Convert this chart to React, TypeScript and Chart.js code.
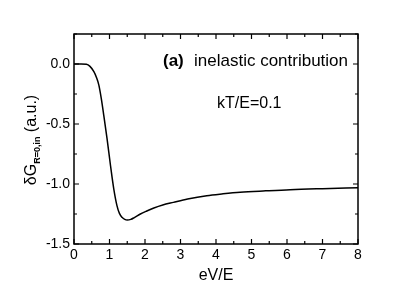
import React, { useEffect, useRef } from "react";
import { Chart, registerables } from "chart.js";

Chart.register(...registerables);

const xValues = [0, 0.2, 0.35, 0.45, 0.56, 0.63, 0.7, 0.77, 0.84, 0.93, 1.03, 1.12, 1.21, 1.28, 1.36, 1.43, 1.5, 1.6, 1.7, 1.87, 2.05, 2.25, 2.5, 2.8, 3.2, 3.74, 4.2, 4.68, 5.4, 6.09, 7.0, 8.0];
const yValues = [0, 0, -0.002, -0.02, -0.064, -0.11, -0.176, -0.29, -0.43, -0.62, -0.85, -1.04, -1.18, -1.245, -1.28, -1.295, -1.3, -1.295, -1.28, -1.25, -1.225, -1.2, -1.175, -1.153, -1.125, -1.097, -1.082, -1.069, -1.057, -1.047, -1.039, -1.032];
const xTicks = [0, 1, 2, 3, 4, 5, 6, 7, 8];
const yTicks = [-1.5, -1.0, -0.5, 0.0];
const xMinor = [0.5, 1.5, 2.5, 3.5, 4.5, 5.5, 6.5, 7.5];
const yMinor = [-1.25, -0.75, -0.25, 0.25];
const panelLabel = "(a)";
const panelText = "inelastic contribution";
const tempText = "kT/E=0.1";
const xTitle = "eV/E";

const FONT = "Arial, 'Liberation Sans', sans-serif";

const framePlugin = {
  id: "frame",
  afterDraw(chart: any) {
    const { ctx, chartArea: a, scales } = chart;
    const xs = scales.x;
    const ys = scales.y;
    ctx.save();
    ctx.strokeStyle = "#000";
    ctx.lineWidth = 1.5;
    ctx.strokeRect(a.left, a.top, a.right - a.left, a.bottom - a.top);
    ctx.lineWidth = 1.2;
    const tick = (vals: number[], len: number) => {
      vals.forEach((v) => {
        const px = xs.getPixelForValue(v);
        ctx.beginPath();
        ctx.moveTo(px, a.bottom);
        ctx.lineTo(px, a.bottom - len);
        ctx.moveTo(px, a.top);
        ctx.lineTo(px, a.top + len);
        ctx.stroke();
      });
    };
    const ytick = (vals: number[], len: number) => {
      vals.forEach((v) => {
        const py = ys.getPixelForValue(v);
        ctx.beginPath();
        ctx.moveTo(a.left, py);
        ctx.lineTo(a.left + len, py);
        ctx.moveTo(a.right, py);
        ctx.lineTo(a.right - len, py);
        ctx.stroke();
      });
    };
    tick(xTicks, 5);
    tick(xMinor, 3);
    ytick(yTicks, 5);
    ytick(yMinor, 3);

    // annotations
    ctx.fillStyle = "#000";
    ctx.textBaseline = "alphabetic";
    ctx.textAlign = "left";
    ctx.font = `bold 17px ${FONT}`;
    ctx.fillText(panelLabel, 163, 66);
    ctx.font = `17px ${FONT}`;
    ctx.fillText(panelText, 194, 66);
    ctx.font = `16px ${FONT}`;
    ctx.fillText(tempText, 217, 108);

    // y title with subscript
    ctx.translate(36, 140);
    ctx.rotate(-Math.PI / 2);
    const p1 = "\u03B4G";
    const sub = "R=0,in";
    const p2 = " (a.u.)";
    ctx.font = `16px ${FONT}`;
    const w1 = ctx.measureText(p1).width;
    const w3 = ctx.measureText(p2).width;
    ctx.font = `bold 9px ${FONT}`;
    const w2 = ctx.measureText(sub).width;
    let x0 = -(w1 + w2 + w3) / 2;
    ctx.font = `16px ${FONT}`;
    ctx.fillText(p1, x0, 0);
    x0 += w1;
    ctx.font = `bold 9px ${FONT}`;
    ctx.fillText(sub, x0, 4);
    x0 += w2;
    ctx.font = `16px ${FONT}`;
    ctx.fillText(p2, x0, 0);
    ctx.restore();
  },
};

export default function App() {
  const ref = useRef<HTMLCanvasElement | null>(null);
  useEffect(() => {
    document.body.style.margin = "0";
    const canvas = ref.current;
    if (!canvas) return;
    const chart = new Chart(canvas, {
      type: "line",
      data: {
        datasets: [
          {
            data: xValues.map((x, i) => ({ x, y: yValues[i] })),
            borderColor: "#000",
            borderWidth: 1.5,
            pointRadius: 0,
            fill: false,
            cubicInterpolationMode: "monotone",
          },
        ],
      },
      options: {
        animation: false,
        responsive: false,
        events: [],
        layout: { padding: { top: 34, right: 57, left: 0, bottom: 0 } },
        plugins: { legend: { display: false }, tooltip: { enabled: false } },
        scales: {
          x: {
            type: "linear",
            min: 0,
            max: 8,
            afterBuildTicks: (s: any) => {
              s.ticks = xTicks.map((v) => ({ value: v }));
            },
            afterFit: (s: any) => {
              s.height = 50;
            },
            grid: { display: false, drawTicks: false },
            border: { display: false },
            ticks: {
              color: "#000",
              font: { size: 14, family: FONT },
              padding: 3,
              maxRotation: 0,
              callback: (v: any) => String(v),
            },
            title: {
              display: true,
              text: xTitle,
              color: "#000",
              font: { size: 16, family: FONT },
              padding: { top: 0, bottom: 9 },
            },
          },
          y: {
            type: "linear",
            min: -1.5,
            max: 0.25,
            afterBuildTicks: (s: any) => {
              s.ticks = yTicks.map((v) => ({ value: v }));
            },
            afterFit: (s: any) => {
              s.width = 74;
            },
            grid: { display: false, drawTicks: false },
            border: { display: false },
            ticks: {
              color: "#000",
              font: { size: 14, family: FONT },
              padding: 4,
              callback: (v: any) => Number(v).toFixed(1),
            },
          },
        },
      },
      plugins: [framePlugin],
    } as any);
    return () => chart.destroy();
  }, []);
  return <canvas ref={ref} width={415} height={294} style={{ display: "block" }} />;
}
